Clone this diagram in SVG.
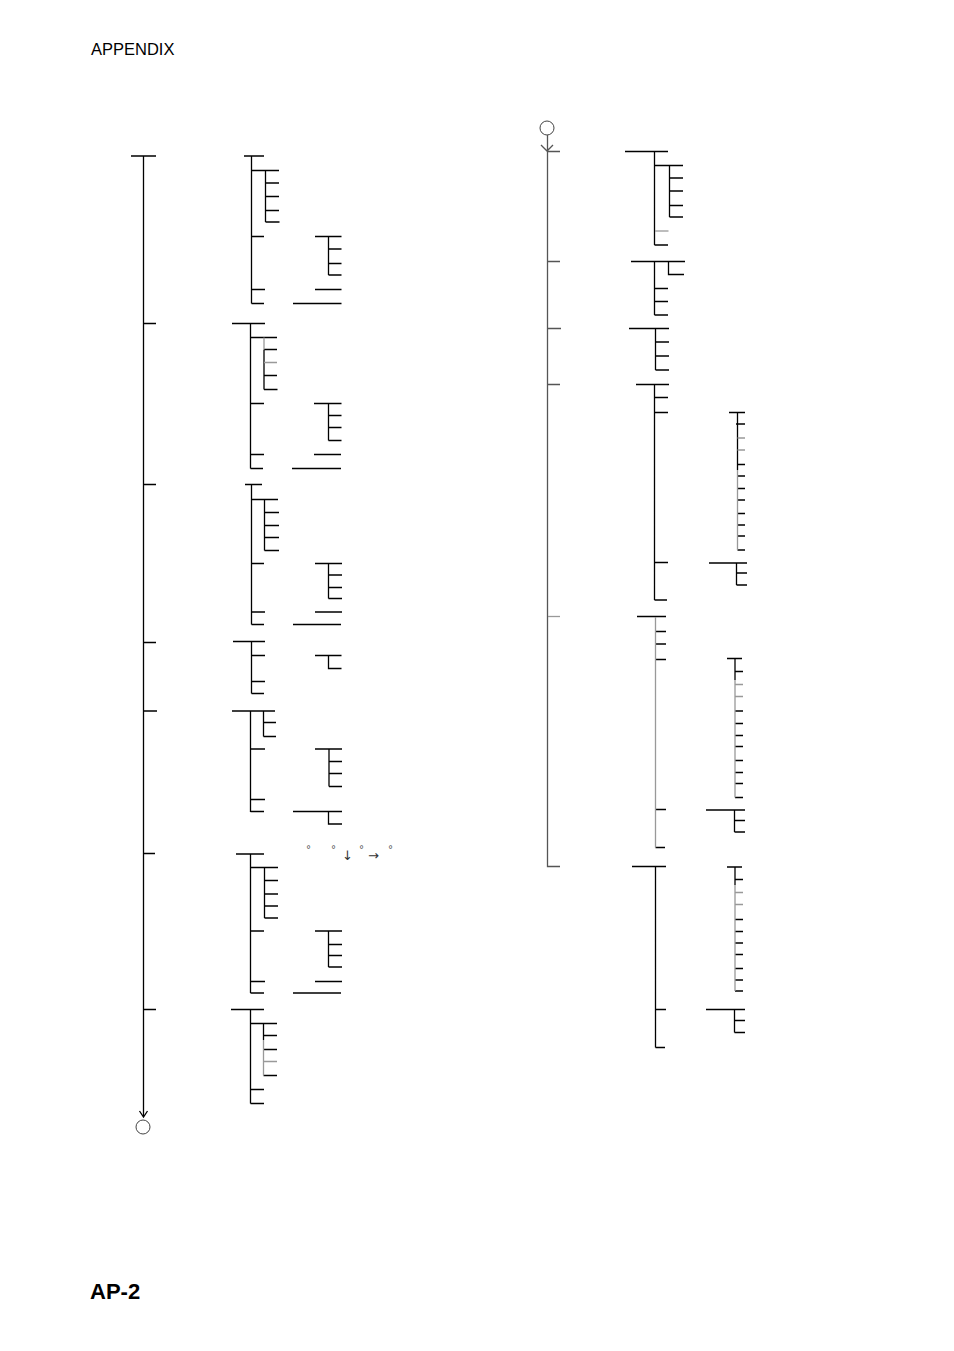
<svg xmlns="http://www.w3.org/2000/svg" width="954" height="1351" viewBox="0 0 954 1351">
<style>
.l{fill:none;stroke:#000;stroke-width:1.3}
.g{fill:none;stroke:#999;stroke-width:1.3}
.t{fill:none;stroke:#555;stroke-width:1.3}
.c{fill:#fff;stroke:#444;stroke-width:1}
.hd{font-family:"Liberation Sans",Arial,sans-serif;font-size:16.5px;fill:#000}
.ft{font-family:"Liberation Sans",Arial,sans-serif;font-size:22px;font-weight:bold;fill:#000}
.sm{font-family:"DejaVu Sans",sans-serif;font-size:10px;fill:#555}
.ar{font-family:"DejaVu Sans",sans-serif;font-size:13px;fill:#333}
</style>
<rect width="954" height="1351" fill="#fff"/>
<text class="hd" x="91" y="55">APPENDIX</text>
<text class="ft" x="90" y="1299">AP-2</text>
<g id="connectors">
<path class="l" d="M143.5 156V1116M131 156H156M143.5 323.5H156M143.5 484.5H156M143.5 642.5H156M143.5 711H157M143.5 853.5H155M143.5 1009.5H156"/>
<path class="l" d="M139.5 1111L143.5 1117L147.5 1111"/>
<circle class="c" cx="143" cy="1127" r="7"/>
<circle class="c" cx="547" cy="128" r="7"/>
<path class="t" d="M547.5 135V866.5H560M541 145L547 151L553 145M547.5 151.5H560M547.5 261.5H560M547.5 328.5H561M547.5 384.5H560"/>
<path class="g" d="M548 616.5H560"/>
</g>
<g id="nodeA">
<path class="l" d="M244 156H264M251.5 156V303.5M251.5 170.5H279M265.5 170.5V222M265.5 183H279M265.5 196.5H279M265.5 210.5H279M265.5 222H279.5M251.5 236.5H264M315 236.5H341.5M328.5 236.5V275M328.5 249H341.5M328.5 263.5H341.5M328.5 275H341.5M251.5 289.5H265M315 289.5H341.5M251.5 303.5H264M293 303.5H341.5"/>
</g>
<g id="nodeB">
<path class="l" d="M232 323.5H265M250.5 323.5V468.5M250.5 337.5H277M264 349.5V389.5M264 349.5H277M264 375.5H277M264 389.5H277.5M250.5 403.5H264M314 403.5H341.5M328.5 403.5V440.5M328.5 415.5H341.5M328.5 427.5H341.5M328.5 440.5H341.5M250.5 454.5H264M314 454.5H341M250.5 468.5H263M292 468.5H341"/>
<path class="g" d="M264 337.5V349.5M264 362.5H277"/>
</g>
<g id="nodeC">
<path class="l" d="M245 484.5H262M251.5 484.5V624.5M251.5 499.5H278M264.5 499.5V550.5M264.5 512.5H279M264.5 525.5H279M264.5 537.5H279M264.5 550.5H279M251.5 563.5H264M315 563.5H342M328.5 563.5V598.5M328.5 575H342M328.5 587.5H342M328.5 598.5H342M251.5 612H265M315 612H342M251.5 624.5H264M293 624.5H341"/>
</g>
<g id="nodeD">
<path class="l" d="M233 641.5H265M251.5 641.5V693.5M251.5 655.5H265M315 655.5H341.5M328.5 655.5V668.5H341.5M251.5 681.5H265M251.5 693.5H264"/>
</g>
<g id="nodeE">
<path class="l" d="M232 711H275M250.5 711V812M263.5 711V736.5M263.5 722.5H276M263.5 736.5H276M250.5 749H265M315 749H342M329 749V786.5M329 761.5H342M329 773.5H342M329 786.5H342M250.5 799.5H265M250.5 811.5H264M293 811.5H342M328.5 811.5V824H342"/>
</g>
<g id="nodeF">
<path class="l" d="M236 854H264M250.5 854V993M250.5 867.5H278M264.5 867.5V918M264.5 880.5H278M264.5 894H278M264.5 906H278M264.5 918H278M250.5 931H264M315 931H342M328.5 931V967M328.5 944.5H342M328.5 955.5H342M328.5 967H342M250.5 981.5H265M315 981.5H342M250.5 993H264M293 993H341"/>
<text class="sm" x="306" y="853">°</text>
<text class="sm" x="331" y="853">°</text>
<text class="ar" x="342" y="860">↓</text>
<text class="sm" x="359" y="853">°</text>
<text class="ar" x="368" y="860">→</text>
<text class="sm" x="388" y="853">°</text>
</g>
<g id="nodeG">
<path class="l" d="M231 1009.5H264M250.5 1009.5V1103.5M250.5 1023.5H277M263.5 1023.5V1040M263.5 1035.5H277M263.5 1049.5H277M263.5 1075.5H277M250.5 1089.5H264M250.5 1103.5H264"/>
<path class="g" d="M263.5 1040V1075.5M263.5 1061.5H277"/>
</g>
<g id="nodeH">
<path class="l" d="M625 151.5H668M654.5 151.5V245M654.5 165.5H683M669.5 165.5V217M669.5 178H683M669.5 191H683M669.5 205.5H683M669.5 217H683M654.5 245H668"/>
<path class="g" d="M655 231H668.5"/>
</g>
<g id="nodeI">
<path class="l" d="M631 261.5H685M654.5 261.5V315M668.5 261.5V274.5H684M654.5 288.5H668M654.5 301.5H668M654.5 315H668"/>
</g>
<g id="nodeJ">
<path class="l" d="M629 328.5H669M655.5 328.5V370M655.5 342H669M655.5 356H669M655.5 370H669"/>
</g>
<g id="nodeK">
<path class="l" d="M636 384.5H669M654.5 384.5V600M654.5 397.5H668M654.5 412.5H668M654.5 562.5H668M654.5 600H667M729 412.5H745M737.5 412.5V470M736 424H745M737.5 464.5H745M737.5 476H745M737.5 488.5H745M737.5 500H745M737.5 513.5H745M737.5 525H745M737.5 536H745M737.5 550H745M709 563H747M736.5 563V585M736.5 573H747M736.5 585H747"/>
<path class="g" d="M737.5 470V550M737.5 438H745M737.5 450H745"/>
</g>
<g id="nodeL">
<path class="l" d="M637 616.5H666M655.5 631.5H666M655.5 644H666M655.5 659.5H666M655.5 809.5H666M655.5 847.5H665M727 658.5H742M735 658.5V680M735 671.5H743M735 711H743M735 723.5H743M735 735.5H743M735 746.5H743M735 760.5H743M735 772.5H743M735 783.5H743M735 797.5H743M706 810H745M734.5 810V832M734.5 820.5H745M734.5 832H745"/>
<path class="g" d="M655.5 617V847.5M735 680V797.5M735 684.5H743M735 696.5H743"/>
</g>
<g id="nodeM">
<path class="l" d="M632 866.5H666M655.5 866.5V1047.5M727 867H742M735 867V885M735 879.5H743M735 919.5H743M735 931.5H743M735 943H743M735 954.5H743M735 968.5H743M735 980H743M735 991H743M655.5 1009.5H666M706 1009.5H745M734.5 1009.5V1032.5M734.5 1020.5H745M734.5 1032.5H745M655.5 1047.5H665"/>
<path class="g" d="M735 885V991M735 892.5H743M735 904.5H743"/>
</g>
</svg>
